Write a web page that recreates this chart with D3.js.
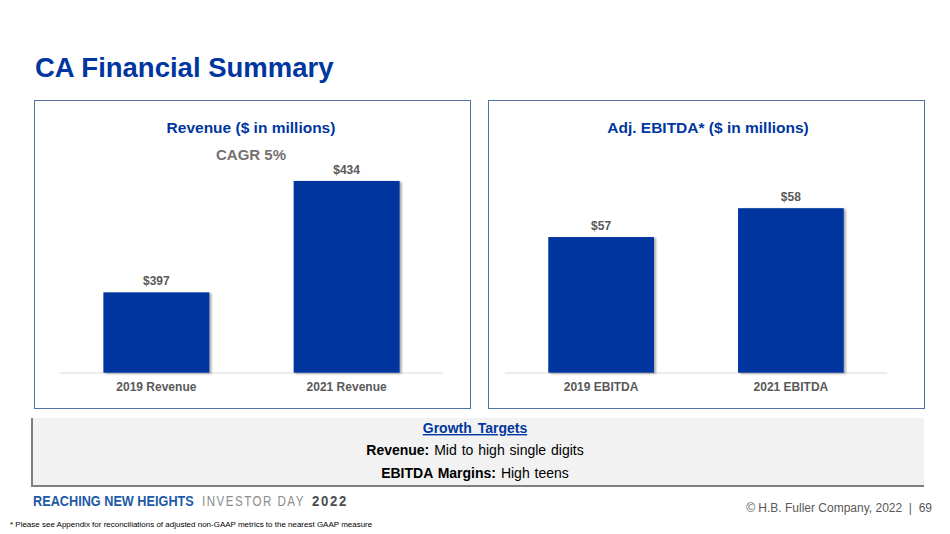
<!DOCTYPE html>
<html>
<head>
<meta charset="utf-8">
<script src="https://cdn.jsdelivr.net/npm/d3@7"></script>
<style>
  body { margin: 0; background: #fff; }
  svg { display: block; font-family: Arial, "Liberation Sans", sans-serif; }
</style>
</head>
<body>
<div id="chart"></div>
<script>
// 数据
const revenueCats = ["2019 Revenue", "2021 Revenue"];
const revenueVals = [397, 434];
const revenueLabels = ["$397", "$434"];
const ebitdaCats = ["2019 EBITDA", "2021 EBITDA"];
const ebitdaVals = [57, 58];
const ebitdaLabels = ["$57", "$58"];
const targetLines = [
  ["Revenue:", " Mid to high single digits"],
  ["EBITDA Margins:", " High teens"]
];

const W = 950, H = 534;
const BLUE = "#0036a0";

const svg = d3.select("#chart").append("svg")
  .attr("width", W).attr("height", H);

const defs = svg.append("defs");
const f = defs.append("filter").attr("id", "barShadow")
  .attr("x", "-10%").attr("y", "-10%").attr("width", "130%").attr("height", "130%");
f.append("feDropShadow").attr("dx", 2).attr("dy", 1).attr("stdDeviation", 1.2)
  .attr("flood-color", "#000").attr("flood-opacity", 0.35);

// 标题
svg.append("text")
  .attr("x", 35).attr("y", 77)
  .style("font-size", "27.5px").style("font-weight", "bold")
  .style("fill", BLUE)
  .text("CA Financial Summary");

// 画一个面板
function drawPanel(opt) {
  const g = svg.append("g");
  g.append("rect")
    .attr("x", opt.x + 0.5).attr("y", 100.5)
    .attr("width", opt.w).attr("height", 308)
    .attr("fill", "#fff").attr("stroke", "#5173a8").attr("stroke-width", 1);

  g.append("text")
    .attr("x", opt.titleX).attr("y", 133)
    .attr("text-anchor", "middle")
    .style("font-size", "15.5px").style("font-weight", "bold")
    .style("fill", BLUE)
    .text(opt.title);

  if (opt.sub) {
    g.append("text")
      .attr("x", opt.titleX).attr("y", 160)
      .attr("text-anchor", "middle")
      .style("font-size", "15px").style("font-weight", "bold")
      .style("fill", "#767171")
      .text(opt.sub);
  }

  const x = d3.scaleBand()
    .domain(opt.cats)
    .range([opt.axisX0, opt.axisX1])
    .paddingInner(0.443).paddingOuter(0.228);
  // 值轴不从0开始
  const y = d3.scaleLinear().domain(opt.domain).range([372.7, 162]);

  g.append("line")
    .attr("x1", opt.axisX0).attr("x2", opt.axisX1)
    .attr("y1", 373).attr("y2", 373)
    .attr("stroke", "#d9d9d9").attr("stroke-width", 1);

  g.selectAll(".bar")
    .data(opt.vals)
    .enter().append("rect")
    .attr("class", "bar")
    .attr("x", (d, i) => x(opt.cats[i]))
    .attr("width", x.bandwidth())
    .attr("y", d => y(d))
    .attr("height", d => y.range()[0] - y(d))
    .attr("fill", BLUE)
    .attr("filter", "url(#barShadow)");

  g.selectAll(".val")
    .data(opt.vals)
    .enter().append("text")
    .attr("x", (d, i) => x(opt.cats[i]) + x.bandwidth() / 2)
    .attr("y", d => y(d) - 7)
    .attr("text-anchor", "middle")
    .style("font-size", "12px").style("font-weight", "bold")
    .style("fill", "#595959")
    .text((d, i) => opt.labels[i]);

  g.selectAll(".cat")
    .data(opt.cats)
    .enter().append("text")
    .attr("x", d => x(d) + x.bandwidth() / 2)
    .attr("y", 391)
    .attr("text-anchor", "middle")
    .style("font-size", "12px").style("font-weight", "bold")
    .style("fill", "#595959")
    .text(d => d);
}

drawPanel({
  x: 34, w: 436, titleX: 251,
  title: "Revenue ($ in millions)", sub: "CAGR 5%",
  cats: revenueCats, vals: revenueVals, labels: revenueLabels,
  axisX0: 60, axisX1: 443, domain: [370.3, 440.3]
});
drawPanel({
  x: 488, w: 436, titleX: 708,
  title: "Adj. EBITDA*  ($ in millions)",
  cats: ebitdaCats, vals: ebitdaVals, labels: ebitdaLabels,
  axisX0: 505, axisX1: 887, domain: [52.3, 59.6]
});

// 增长目标框
const tg = svg.append("g");
tg.append("rect")
  .attr("x", 31).attr("y", 418).attr("width", 893).attr("height", 69)
  .attr("fill", "#7f7f7f");
tg.append("rect")
  .attr("x", 33).attr("y", 418).attr("width", 891).attr("height", 67)
  .attr("fill", "#f2f2f2");

tg.append("text")
  .attr("x", 475).attr("y", 433)
  .attr("text-anchor", "middle")
  .style("font-size", "14px").style("font-weight", "bold")
  .style("fill", BLUE).style("text-decoration", "underline")
  .style("word-spacing", "2px")
  .text("Growth Targets");

targetLines.forEach((t, i) => {
  const txt = tg.append("text")
    .attr("x", 475).attr("y", 455 + i * 23)
    .attr("text-anchor", "middle")
    .style("font-size", "14px").style("fill", "#000")
    .style("word-spacing", "1px");
  txt.append("tspan").style("font-weight", "bold").text(t[0]);
  txt.append("tspan").text(t[1]);
});

// 页脚（横向缩放到参考宽度）
const footerParts = [
  { t: "REACHING NEW HEIGHTS", x: 33, len: 161, w: "bold", c: "#1d5aa6", ls: 0 },
  { t: "INVESTOR DAY", x: 202, len: 103, w: "normal", c: "#8c8c8c", ls: 2 },
  { t: "2022", x: 312, len: 36, w: "bold", c: "#4d4d4d", ls: 2 }
];
function fitText(sel, x, y, len) {
  const nat = sel.node().getComputedTextLength();
  sel.attr("transform", `translate(${x},${y}) scale(${len / nat},1)`);
}
footerParts.forEach(d => {
  const t = svg.append("text")
    .attr("x", 0).attr("y", 0)
    .style("font-size", "15.5px")
    .style("font-weight", d.w)
    .style("letter-spacing", d.ls + "px")
    .style("fill", d.c)
    .text(d.t);
  fitText(t, d.x, 506, d.len);
});

svg.append("text")
  .attr("x", 932).attr("y", 512)
  .attr("text-anchor", "end")
  .style("font-size", "12px").style("fill", "#595959")
  .style("white-space", "pre")
  .text("© H.B. Fuller Company, 2022  |  69");

const note = svg.append("text")
  .attr("x", 0).attr("y", 0)
  .style("font-size", "7px").style("fill", "#000")
  .text("* Please  see Appendix for reconciliations of adjusted non-GAAP metrics to the nearest GAAP measure");
fitText(note, 10, 527, 363);
</script>
</body>
</html>
